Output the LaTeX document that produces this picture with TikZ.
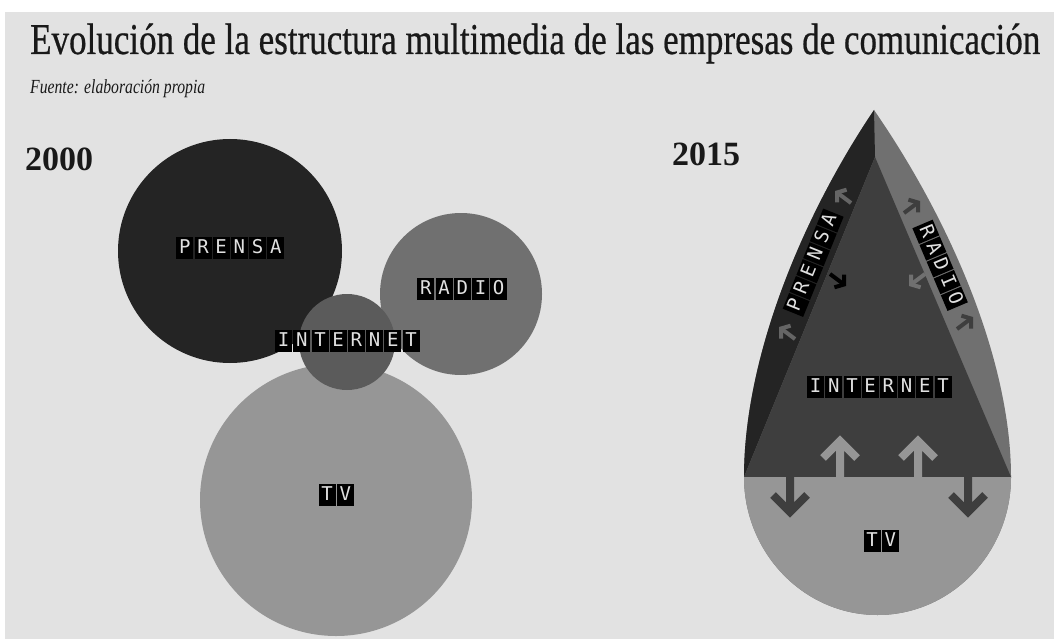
\documentclass[tikz,border=0pt]{standalone}
\usepackage{fontspec}
\usepackage{tikz}
\usetikzlibrary{calc,arrows.meta}
\setmainfont{Liberation Serif}
\newfontfamily\titlefont[FakeBold=0.6]{Liberation Serif}
\newfontfamily\tilefont{DejaVu Sans Mono}

\definecolor{paper}{RGB}{226,226,226}
\definecolor{prensacol}{RGB}{36,36,36}
\definecolor{netcol}{RGB}{62,62,62}
\definecolor{radiocol}{RGB}{112,112,112}
\definecolor{tvcol}{RGB}{150,150,150}

\setlength{\fboxsep}{2pt}
\newcommand\tilebox[1]{\hspace{0.6pt}\colorbox{black}{\makebox[13pt]{\rule[-4pt]{0pt}{18pt}#1}}\hspace{0.6pt}}
\ExplSyntaxOn
\NewDocumentCommand\tiles{m}{\tl_map_inline:nn{#1}{\tilebox{##1}}}
\ExplSyntaxOff

\tikzset{
  medio/.style={circle,inner sep=0pt},
  rotulo/.style={inner sep=0pt,text=white!88!black,font=\tilefont\fontsize{19}{22}\selectfont},
  texto/.style={anchor=base west,inner sep=0pt,text=black!90},
  flechagrande/.style={line width=8pt,line join=miter,line cap=butt},
  flechita/.style={line width=4pt,-{Straight Barb[length=6pt,width=16pt]}}
}

\begin{document}
\begin{tikzpicture}[x=1pt,y=-1pt]
            \useasboundingbox (0,0) rectangle (1054,639);
            \fill[white] (0,0) rectangle (1054,639);
            \fill[paper] (5,12) rectangle (1054,639);

            \node[texto,font=\titlefont\fontsize{44}{48}\selectfont] (titulo) at (30,54)
              {\resizebox{1010pt}{\height}{Evolución de la estructura multimedia de las empresas de comunicación}};
            \node[texto,font=\itshape\fontsize{20}{22}\selectfont] (fuente) at (30,94)
              {\resizebox{175pt}{\height}{Fuente: elaboración propia}};
            \node[texto,font=\bfseries\fontsize{34}{38}\selectfont] (y2000) at (25,171){2000};
            \node[texto,font=\bfseries\fontsize{34}{38}\selectfont] (y2015) at (672,166){2015};

            % 2000
            \node[medio,fill=tvcol,minimum size=272pt] (tv) at (336,500){};
            \node[medio,fill=prensacol,minimum size=224pt] (prensa) at (230,251){};
            \node[medio,fill=radiocol,minimum size=162pt] (radio) at (461,294){};
            \node[medio,fill=netcol!85!white,minimum size=96pt] (internet) at (347,342){};
            \node[rotulo] (prensa lbl) at (230,248){\tiles{PRENSA}};
            \node[rotulo] (radio lbl) at (462,289){\tiles{RADIO}};
            \node[rotulo] (internet lbl) at (347,341){\tiles{INTERNET}};
            \node[rotulo] (tv lbl) at (336,495){\tiles{TV}};

            % 2015
            \coordinate (punta) at (874,110);
            \coordinate (cima) at (875,157);
            \coordinate (izq) at (744,477);
            \coordinate (der) at (1011,477);
            \coordinate (fondo) at (877.5,615);
            \fill[radiocol] (punta) .. controls (950,220) and (1011,360) .. (der)
              .. controls (1011,553) and (951,615) .. (fondo)
              .. controls (804,615) and (744,553) .. (izq)
              .. controls (744,360) and (800,220) .. (punta);
            \fill[prensacol] (punta) .. controls (800,220) and (744,360) .. (izq) -- (cima) -- cycle;
            \fill[netcol] (cima) -- (izq) -- (der) -- cycle;
            \fill[tvcol] (der) .. controls (1011,553) and (951,615) .. (fondo)
              .. controls (804,615) and (744,553) .. (izq) -- cycle;

            \foreach \x/\y in {843/197,787/333}
              \draw[flechita,netcol!80!white] (\x+8,\y+6) -- (\x-8,\y-6);
            \foreach \x/\y in {912/207,965/323}
              \draw[flechita,netcol] (\x-8,\y+6) -- (\x+8,\y-6);
            \draw[flechita,black] (830,274) -- (846,286);
            \draw[flechita,radiocol] (925,274) -- (909,286);

            \foreach \x in {790,968}
              \draw[flechagrande,netcol] (\x,470) -- (\x,512) (\x-17,495) -- (\x,512) -- (\x+17,495);
            \foreach \x in {840,918}
              \draw[flechagrande,tvcol] (\x,478) -- (\x,441) (\x-17,458) -- (\x,441) -- (\x+17,458);

            \node[rotulo,rotate=68] (prensa15) at (813,263){\tiles{PRENSA}};
            \node[rotulo,rotate=-67] (radio15) at (940,265){\tiles{RADIO}};
            \node[rotulo] (internet15) at (879,387){\tiles{INTERNET}};
            \node[rotulo] (tv15) at (881,541){\tiles{TV}};
\end{tikzpicture}
\end{document}
